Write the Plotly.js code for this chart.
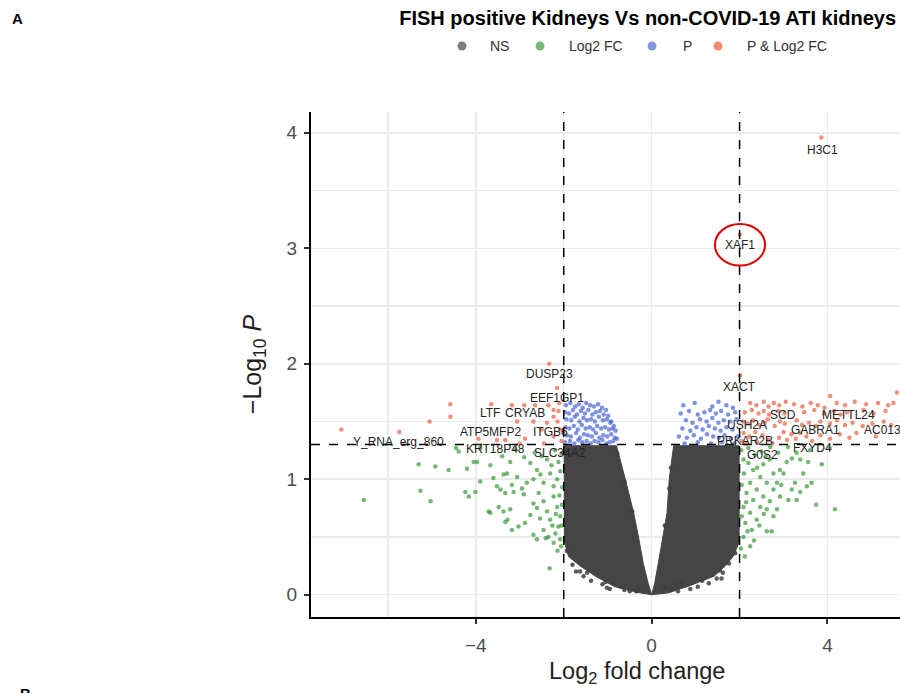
<!DOCTYPE html>
<html>
<head>
<meta charset="utf-8">
<script src="https://cdn.plot.ly/plotly-3.0.1.min.js"></script>
<style>html,body{margin:0;padding:0;background:#fff;}#chart{width:900px;height:693px;}</style>
</head>
<body>
<div id="chart"></div>
<script>
// ---------------- DATA ----------------
// Dense NS cloud outline (left & right lobes of the volcano)
const nsLeftX  = [0, -0.32, -0.84, -1.28, -1.63, -1.89, -1.98, -1.99, -1.6, -1.2, -0.80, -0.60, -0.41, -0.30, -0.19, -0.08, 0];
const nsLeftY  = [0, 0.02, 0.07, 0.16, 0.25, 0.33, 0.45, 1.29, 1.29, 1.29, 1.29, 1.0, 0.71, 0.5, 0.27, 0.1, 0];
const nsRightX = [0, 0.07, 0.15, 0.25, 0.35, 0.40, 0.50, 1.2, 1.99, 1.99, 1.85, 1.68, 1.42, 0.81, 0.37, 0];
const nsRightY = [0, 0.1, 0.27, 0.5, 0.71, 1.0, 1.29, 1.29, 1.29, 0.45, 0.33, 0.25, 0.16, 0.07, 0.015, 0];
// scattered NS points at the edge of the cloud
const nsX = [-1.72,-1.55,-1.38,-1.12,-0.95,-0.62,-1.80,-1.93,-1.47,-1.05,-0.50,-0.35,-0.70,-0.88,-0.28,
             1.62,1.48,1.30,1.05,0.88,0.60,1.76,1.90,1.55,1.15,0.45,0.32,0.55,0.70,0.25,
             -0.78,-0.62,-0.44,0.40,0.44,0.30,-1.63,1.59,-1.02];
const nsY = [0.20,0.16,0.12,0.09,0.05,0.04,0.26,0.38,0.19,0.11,0.03,0.03,0.07,0.10,0.06,
             0.19,0.14,0.10,0.07,0.05,0.03,0.27,0.36,0.21,0.12,0.04,0.06,0.09,0.10,0.07,
             1.22,0.98,0.72,0.92,1.10,0.60,0.20,0.14,0.06];

// Log2 FC only (green)
const fcX = [-5.30,-4.92,-4.62,-4.20,-4.39,-4.05,-3.97,-3.67,-3.22,-2.76,-2.61,-2.38,-5.26,-5.03,-6.55,-4.24,-4.16,-4.01,-3.90,-3.60,
             -3.37,-3.29,-3.06,-3.18,-3.52,-3.44,-3.33,-3.14,-2.95,-2.84,-2.69,-2.53,-2.46,-2.31,-2.23,-2.15,-2.08,-3.71,-3.48,-3.37,
             -3.22,-3.33,-3.18,-3.03,-2.88,-2.76,-2.69,-2.61,-2.46,-2.38,-2.31,-2.23,-2.15,-2.08,-2.46,-2.69,-2.61,-2.35,-2.19,-2.12,
             -2.08,-2.91,-2.57,-2.41,-2.23,-2.32,-2.06,-2.54,-3.67,-3.28,-2.05,-2.12,-2.20,-2.28,-2.03,-2.10,-2.04,-2.18,-2.05,-2.26,
             -2.14,-2.50,-2.66,-2.90,-3.40,-3.90,-4.45,-3.10,
             3.87,3.64,3.74,4.17,3.56,3.38,3.19,3.07,2.92,2.77,3.00,3.19,3.38,3.30,3.11,2.92,2.77,2.62,2.47,2.31,
             2.20,2.09,2.24,2.39,2.54,2.69,2.85,2.77,2.62,2.47,2.31,2.16,2.09,2.24,2.39,2.28,2.62,2.73,2.13,2.09,
             2.24,2.85,2.54,2.69,2.35,2.50,2.88,3.30,3.53,3.26,2.04,2.10,2.05,2.15,2.05,2.18,2.03,2.12,2.40,2.60,
             2.20,2.70,3.10,3.60,4.05,2.45,2.33,2.55,2.95,3.45];
const fcY = [1.13,1.11,1.08,1.09,1.24,1.15,1.15,1.12,1.15,1.14,1.08,1.17,0.90,0.81,0.82,0.89,0.85,0.89,0.98,1.01,
             1.04,1.05,1.02,0.95,0.94,0.91,0.88,0.89,0.92,0.97,1.00,1.04,0.97,1.05,0.94,1.00,1.07,0.72,0.76,0.72,
             0.74,0.63,0.56,0.59,0.62,0.69,0.79,0.75,0.81,0.72,0.65,0.85,0.76,0.68,0.56,0.52,0.48,0.50,0.53,0.59,
             0.48,0.87,0.88,0.49,0.45,0.23,0.42,0.66,0.71,0.65,1.22,1.15,1.25,1.12,0.93,0.86,0.78,0.70,0.60,0.60,
             0.38,1.20,1.23,1.19,1.20,1.27,1.27,1.26,
             1.13,0.97,0.78,0.74,1.15,1.17,1.18,1.15,1.08,1.05,1.05,0.91,0.89,0.82,0.82,0.85,0.91,0.97,1.02,1.08,
             1.14,1.17,0.97,0.91,0.85,0.81,0.74,0.68,0.74,0.76,0.82,0.88,0.76,0.71,0.65,0.56,0.55,0.55,0.62,0.50,
             0.42,0.97,1.13,1.17,1.21,1.24,1.23,1.23,0.94,0.97,1.25,1.05,0.95,0.80,0.68,0.55,0.40,0.33,1.10,1.20,
             1.27,1.28,1.28,1.25,1.27,0.60,0.47,0.70,0.95,1.05];

// P only (blue)
const pX = [-1.95,-1.85,-1.74,-1.66,-1.57,-1.49,-1.40,-1.31,-1.22,-1.13,-1.04,
            -1.97,-1.88,-1.79,-1.70,-1.61,-1.52,-1.44,-1.35,-1.27,-1.18,-1.09,-0.99,-0.92,
            -1.94,-1.83,-1.75,-1.64,-1.55,-1.47,-1.38,-1.29,-1.20,-1.11,-1.02,-0.94,-0.86,
            -1.96,-1.87,-1.77,-1.68,-1.59,-1.50,-1.41,-1.33,-1.24,-1.15,-1.06,-0.97,-0.89,-0.82,
            -1.93,-1.84,-1.72,-1.63,-1.54,-1.45,-1.36,-1.27,-1.19,-1.10,-1.01,-0.92,-0.84,-0.79,
            -1.97,-1.86,-1.76,-1.67,-1.58,-1.48,-1.39,-1.30,-1.21,-1.12,-1.03,-0.95,-0.87,
            0.72,0.98,1.38,1.52,1.70,1.85,
            0.66,0.85,1.05,1.20,1.33,1.46,1.58,1.74,1.90,
            0.78,0.93,1.10,1.25,1.38,1.52,1.64,1.79,1.93,
            0.70,0.88,1.02,1.16,1.30,1.44,1.57,1.70,1.84,
            0.62,0.80,0.96,1.12,1.26,1.40,1.53,1.66,1.80,1.95,
            0.75,1.05,1.35,1.60,1.88];
const pY = [1.64,1.66,1.63,1.65,1.62,1.66,1.64,1.63,1.65,1.62,1.60,
            1.58,1.57,1.60,1.56,1.59,1.57,1.60,1.56,1.58,1.59,1.56,1.55,1.50,
            1.52,1.51,1.54,1.50,1.53,1.51,1.52,1.50,1.54,1.51,1.52,1.49,1.46,
            1.45,1.44,1.46,1.43,1.47,1.44,1.45,1.43,1.46,1.44,1.45,1.43,1.44,1.42,
            1.38,1.37,1.40,1.36,1.39,1.38,1.37,1.40,1.36,1.38,1.37,1.39,1.36,1.35,
            1.32,1.33,1.31,1.34,1.32,1.33,1.31,1.33,1.32,1.34,1.31,1.32,1.33,
            1.64,1.66,1.63,1.67,1.64,1.62,
            1.57,1.59,1.56,1.58,1.60,1.57,1.59,1.56,1.58,
            1.51,1.49,1.52,1.50,1.53,1.49,1.51,1.50,1.52,
            1.44,1.42,1.45,1.43,1.46,1.44,1.42,1.45,1.43,
            1.37,1.36,1.38,1.35,1.39,1.37,1.36,1.38,1.35,1.37,
            1.31,1.32,1.31,1.32,1.31];

// P & Log2 FC (red)
const sigX = [-2.33,-2.15,-4.58,-4.58,-5.05,-5.74,-7.06,-3.65,-3.18,-2.90,-2.65,-2.35,-2.23,-2.12,-3.06,-2.23,-2.14,-2.38,-2.69,-3.33,
              -3.52,-2.88,-2.23,-2.08,-2.50,-3.94,-2.05,-2.10,-2.45,-3.00,
              2.24,2.38,2.55,2.66,2.78,2.90,3.05,3.24,3.43,3.62,3.78,3.93,4.06,4.21,4.40,4.62,4.88,5.15,5.38,5.50,5.58,
              2.12,2.28,2.43,2.55,2.67,2.88,3.02,3.47,3.70,3.92,4.15,4.30,4.45,4.82,5.05,5.32,
              2.08,2.19,2.30,2.45,2.57,2.64,2.80,2.92,3.03,3.30,3.42,3.58,3.73,3.84,4.06,4.22,4.40,4.57,4.80,5.02,5.28,5.45,
              2.09,2.22,2.36,2.52,2.90,3.00,3.08,3.18,3.28,3.38,3.52,3.65,3.84,4.06,4.28,4.50,4.66,5.10,
              2.05,2.15,2.40,2.65,2.75,
              2.01,2.01,3.86];
const sigY = [2.00,1.79,1.65,1.54,1.50,1.41,1.43,1.65,1.64,1.64,1.64,1.64,1.60,1.59,1.50,1.54,1.50,1.49,1.50,1.34,
              1.34,1.35,1.37,1.43,1.43,1.35,1.33,1.66,1.31,1.31,
              1.66,1.64,1.67,1.63,1.66,1.64,1.67,1.65,1.63,1.66,1.64,1.62,1.72,1.66,1.64,1.67,1.65,1.66,1.64,1.66,1.75,
              1.58,1.60,1.57,1.59,1.56,1.59,1.57,1.58,1.60,1.57,1.59,1.56,1.58,1.60,1.57,1.59,
              1.50,1.48,1.51,1.47,1.49,1.52,1.46,1.50,1.48,1.51,1.47,1.49,1.46,1.50,1.48,1.51,1.47,1.49,1.46,1.48,1.50,1.47,
              1.40,1.37,1.41,1.38,1.36,1.41,1.34,1.39,1.35,1.40,1.37,1.33,1.38,1.35,1.39,1.36,1.40,1.37,
              1.33,1.31,1.32,1.34,1.31,
              1.90,3.12,3.96];

// Gene labels
const geneNames = ["H3C1","XAF1","XACT","DUSP23","EEF1GP1","LTF","CRYAB","ATP5MFP2","ITGB6","Y_RNA_erg_860",
                   "KRT18P48","SLC34A2","SCD","METTL24","USH2A","GABRA1","PRKAR2B","G0S2","FXYD4"];
const geneX = [3.88, 2.01, 1.99, -2.33, -2.15, -3.67, -2.88, -3.67, -2.31, -5.76,
               -3.56, -2.08, 2.99, 4.47, 2.17, 3.72, 2.13, 2.53, 3.67];
const geneY = [3.85, 3.03, 1.80, 1.91, 1.70, 1.57, 1.57, 1.41, 1.41, 1.32,
               1.26, 1.23, 1.56, 1.56, 1.47, 1.43, 1.33, 1.21, 1.27];
const cutGene = "AC013470.1", cutGeneX = 4.78, cutGeneY = 1.43;

const xTicks = [-4, 0, 4];
const yTicks = [0, 1, 2, 3, 4];
const fcCut = [-2, 2];
const pCut = 1.301;
const legendNames = ["NS", "Log2 FC", "P", "P & Log2 FC"];

// ---------------- CHART ----------------
const FONT = "Liberation Sans, Arial, Helvetica, sans-serif";
const cNS = "rgba(64,64,64,0.85)", cFC = "rgba(34,139,34,0.62)", cP = "rgba(65,95,210,0.68)", cSig = "rgba(228,92,62,0.68)";

const traces = [
  {x: nsLeftX, y: nsLeftY, type: "scatter", mode: "lines", fill: "toself", fillcolor: "#454545", line: {width: 1, color: "#454545"}, hoverinfo: "skip"},
  {x: nsRightX, y: nsRightY, type: "scatter", mode: "lines", fill: "toself", fillcolor: "#454545", line: {width: 1, color: "#454545"}, hoverinfo: "skip"},
  {x: nsX, y: nsY, type: "scatter", mode: "markers", marker: {size: 4.5, color: cNS}},
  {x: fcX, y: fcY, type: "scatter", mode: "markers", marker: {size: 4.5, color: cFC}},
  {x: pX, y: pY, type: "scatter", mode: "markers", marker: {size: 4.5, color: cP}},
  {x: sigX, y: sigY, type: "scatter", mode: "markers", marker: {size: 4.5, color: cSig}}
];

const px2paperX = p => (p - 311) / 589;
const py2paperY = p => (617 - p) / 505;

const annotations = geneNames.map((g, i) => ({
  x: geneX[i], y: geneY[i], xref: "x", yref: "y", text: g, showarrow: false,
  font: {family: FONT, size: 12, color: "#222"}, xanchor: "center", yanchor: "middle"
}));
annotations.push({x: cutGeneX, y: cutGeneY, xref: "x", yref: "y", text: cutGene, showarrow: false,
  font: {family: FONT, size: 12, color: "#222"}, xanchor: "left", yanchor: "middle"});
annotations.push({x: px2paperX(10), y: py2paperY(18), xref: "paper", yref: "paper", text: "<b>A</b>", showarrow: false,
  font: {family: FONT, size: 15, color: "#000"}, xanchor: "left", yanchor: "middle"});
annotations.push({x: px2paperX(18), y: py2paperY(683), xref: "paper", yref: "paper", text: "<b>B</b>", showarrow: false,
  font: {family: FONT, size: 15, color: "#000"}, xanchor: "left", yanchor: "top"});
// x-axis title (centred on the full panel, which extends beyond the crop)
annotations.push({x: px2paperX(637), y: py2paperY(672), xref: "paper", yref: "paper",
  text: "Log<sub>2</sub> fold change", showarrow: false,
  font: {family: FONT, size: 23.5, color: "#222"}, xanchor: "center", yanchor: "middle"});

// manual legend
const legendColors = ["#7f7f7f", "#78b878", "#8597db", "#ef8a6e"];
const legMarkX = [462, 540, 652, 718];
const legTextX = [488, 567, 681, 745];
const shapes = [];
legendNames.forEach((n, i) => {
  annotations.push({x: px2paperX(legTextX[i]), y: py2paperY(46), xref: "paper", yref: "paper", text: n, showarrow: false,
    font: {family: FONT, size: 14, color: "#333"}, xanchor: "left", yanchor: "middle"});
  shapes.push({type: "circle", xref: "paper", yref: "paper",
    x0: px2paperX(legMarkX[i] - 4.5), x1: px2paperX(legMarkX[i] + 4.5), y0: py2paperY(50.5), y1: py2paperY(41.5),
    fillcolor: legendColors[i], line: {width: 0}});
});

fcCut.forEach(v => shapes.push({type: "line", xref: "x", yref: "paper", x0: v, x1: v, y0: 0, y1: 1,
  line: {color: "#000", width: 1.5, dash: "dash"}}));
shapes.push({type: "line", xref: "paper", yref: "y", x0: 0, x1: 1, y0: pCut, y1: pCut,
  line: {color: "#000", width: 1.5, dash: "dash"}});
// red circle highlighting XAF1
shapes.push({type: "circle", xref: "x", yref: "y", x0: 2.01 - 0.57, x1: 2.01 + 0.57, y0: 3.03 - 0.18, y1: 3.03 + 0.18,
  line: {color: "#e00000", width: 2}});

const layout = {
  width: 900, height: 693,
  margin: {l: 311, r: 0, t: 112, b: 76, pad: 0},
  paper_bgcolor: "#fff", plot_bgcolor: "#fff",
  showlegend: false,
  font: {family: FONT, color: "#333"},
  title: {text: "<b>FISH positive Kidneys Vs non-COVID-19 ATI kidneys</b>", x: 0.9956, xanchor: "right", xref: "container",
    y: 0.974, yanchor: "middle", yref: "container", font: {family: FONT, size: 20, color: "#000"}},
  xaxis: {range: [-7.75, 5.65], tickvals: xTicks, ticktext: xTicks.map(v => v < 0 ? "\u2212" + Math.abs(v) : String(v)),
    showline: true, linecolor: "#000", linewidth: 2, ticks: "outside", ticklen: 5, tickwidth: 2, tickcolor: "#333",
    tickfont: {family: FONT, size: 19, color: "#4d4d4d"}, ticklabelstandoff: 5, showgrid: true, gridcolor: "#ebebeb", gridwidth: 1.5,
    minor: {tickvals: [-6, -2, 2], showgrid: true, gridcolor: "#ebebeb", gridwidth: 1.2, ticks: ""},
    zeroline: false, fixedrange: true},
  yaxis: {range: [-0.193, 4.18], tickvals: yTicks, showline: true, linecolor: "#000", linewidth: 2,
    ticks: "outside", ticklen: 5, tickwidth: 2, tickcolor: "#333",
    tickfont: {family: FONT, size: 19, color: "#4d4d4d"}, ticklabelstandoff: 3, showgrid: true, gridcolor: "#ebebeb", gridwidth: 1.5,
    minor: {tickvals: [0.5, 1.5, 2.5, 3.5], showgrid: true, gridcolor: "#ebebeb", gridwidth: 1.2, ticks: ""},
    zeroline: false, fixedrange: true,
    title: {text: "\u2212Log<sub>10</sub> <i>P</i>", font: {family: FONT, size: 25, color: "#222"}, standoff: 18}},
  annotations: annotations,
  shapes: shapes
};

Plotly.newPlot("chart", traces, layout, {staticPlot: true, displayModeBar: false});
</script>
</body>
</html>
